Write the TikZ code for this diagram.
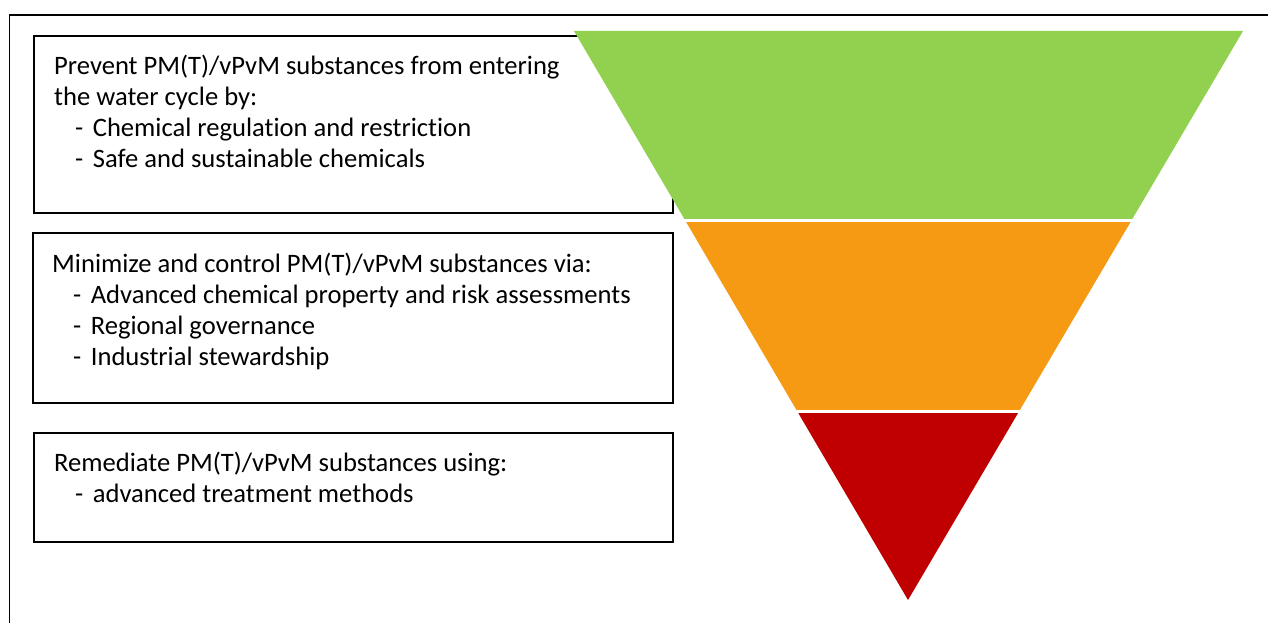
\documentclass[tikz,border=0pt]{standalone}
\usepackage{fontspec}
\setmainfont[Ligatures={NoCommon}]{Carlito}
\usetikzlibrary{calc}
\definecolor{tiergreen}{HTML}{92D050}
\definecolor{tierorange}{HTML}{F59A12}
\definecolor{tierred}{HTML}{C00000}
\newcommand\itm[1]{\hspace*{21pt}-\hspace*{9.5pt}#1}
\newcommand\boxtext[1]{\parbox[t]{620pt}{\raggedright\fontsize{26.6}{31}\selectfont #1}}
\tikzset{
  frame/.style={draw=black, line width=1.6pt},
  tierbox/.style={draw=black, line width=1.6pt, fill=white, anchor=north west, inner sep=0pt},
  tiertext/.style={anchor=base west, inner sep=0pt},
}
\begin{document}
\begin{tikzpicture}[x=1pt, y=-1pt]
\useasboundingbox (0,0) rectangle (1268,623);
\clip (0,0) rectangle (1268,623);
\fill[white] (0,0) rectangle (1268,623);
% outer frame, running past the right and bottom edges
\draw[frame] (9.5,15) rectangle (1300,660);

% text boxes
\node[tierbox, minimum width=639pt, minimum height=177pt] (prevent) at (33,35) {};
\node[tierbox, minimum width=640pt, minimum height=170pt] (minimize) at (32,232) {};
\node[tierbox, minimum width=639pt, minimum height=109pt] (remediate) at (33,432) {};

\node[tiertext] (preventtext) at (54,74.5) {\boxtext{Prevent PM(T)/vPvM substances from entering\\
the water cycle by:\\
\itm{Chemical regulation and restriction}\\
\itm{Safe and sustainable chemicals}}};

\node[tiertext] (minimizetext) at (52,272) {\boxtext{Minimize and control PM(T)/vPvM substances via:\\
\itm{Advanced chemical property and risk assessments}\\
\itm{Regional governance}\\
\itm{Industrial stewardship}}};

\node[tiertext] (remediatetext) at (54,471) {\boxtext{Remediate PM(T)/vPvM substances using:\\
\itm{advanced treatment methods}}};

% inverted pyramid in three bands
\coordinate (TL) at (574,31);
\coordinate (TR) at (1243,31);
\coordinate (apex) at (908,600);
\fill[tiergreen] (TL) -- (TR) -- ($(TR)!0.3304!(apex)$) -- ($(TL)!0.3304!(apex)$) -- cycle;
\fill[tierorange] ($(TL)!0.3357!(apex)$) -- ($(TR)!0.3357!(apex)$) -- ($(TR)!0.666!(apex)$) -- ($(TL)!0.666!(apex)$) -- cycle;
\fill[tierred] ($(TL)!0.6714!(apex)$) -- ($(TR)!0.6714!(apex)$) -- (apex) -- cycle;
\end{tikzpicture}
\end{document}
